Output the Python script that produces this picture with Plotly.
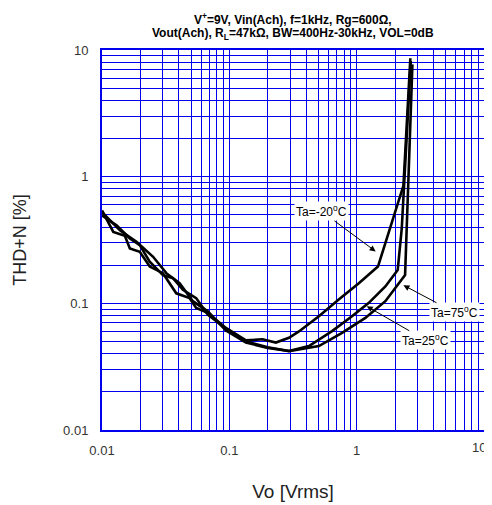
import math
import plotly.graph_objects as go

# Ta = -20 C
vo_m20 = [0.01, 0.01226, 0.01512, 0.01655, 0.01981, 0.0237, 0.0301, 0.0383, 0.0487, 0.0549, 0.0677,
          0.094, 0.135, 0.182, 0.232, 0.294, 0.352, 0.505, 0.723, 1.04, 1.47, 2.33, 2.64]
thd_m20 = [0.541, 0.366, 0.341, 0.271, 0.255, 0.195, 0.173, 0.12, 0.11, 0.0919, 0.084,
           0.064, 0.051, 0.052, 0.049, 0.0535, 0.06, 0.079, 0.107, 0.144, 0.195, 0.85, 8.6]
# Ta = 25 C
vo_25 = [0.01, 0.01382, 0.01866, 0.0252, 0.032, 0.0407, 0.0517, 0.0677, 0.094, 0.135, 0.2,
         0.294, 0.422, 0.641, 0.919, 1.24, 1.68, 2.10, 2.26, 2.66]
thd_25 = [0.525, 0.377, 0.306, 0.233, 0.173, 0.144, 0.104, 0.0865, 0.061, 0.049, 0.0445,
          0.0421, 0.046, 0.0604, 0.079, 0.1005, 0.136, 0.183, 0.39, 8.2]
# Ta = 75 C
vo_75 = [0.01, 0.013, 0.01655, 0.01981, 0.0237, 0.0301, 0.0361, 0.0432, 0.0549, 0.0677, 0.094,
         0.135, 0.2, 0.294, 0.505, 0.768, 1.17, 1.68, 2.40, 2.47, 2.74]
thd_75 = [0.494, 0.413, 0.325, 0.288, 0.213, 0.167, 0.158, 0.128, 0.11, 0.0815, 0.063,
          0.05, 0.045, 0.042, 0.046, 0.0585, 0.0767, 0.104, 0.167, 0.39, 7.7]

tick_vals = [0.01, 0.1, 1, 10]
x_tick_text = ["0.01", "0.1", "1", ""]   # last label placed separately to keep it inside the page
y_tick_text = ["0.01", "0.1", "1", "10"]
minor_vals = [k * 10 ** e for e in (-2, -1, 0) for k in range(2, 10)]

FONT = "Liberation Sans, Arial, sans-serif"
BLUE = "#0000EE"
TICK_FONT = dict(family=FONT, size=13, color="#333333")

fig = go.Figure()
for xs, ys in [(vo_m20, thd_m20), (vo_25, thd_25), (vo_75, thd_75)]:
    fig.add_trace(go.Scatter(x=xs, y=ys, mode="lines",
                             line=dict(color="black", width=2.6), showlegend=False))

axis_common = dict(
    type="log", range=[-2, 1], tickvals=tick_vals,
    showgrid=True, gridcolor=BLUE, gridwidth=1,
    minor=dict(tickvals=minor_vals, showgrid=True, gridcolor=BLUE, gridwidth=1),
    showline=True, linecolor=BLUE, linewidth=2, mirror=True,
    ticks="", zeroline=False, tickfont=TICK_FONT,
)

fig.update_xaxes(ticktext=x_tick_text, ticklabelstandoff=7,
                 title=dict(text="Vo [Vrms]", font=dict(family=FONT, size=19, color="#222222"), standoff=28),
                 **axis_common)
fig.update_yaxes(ticktext=y_tick_text, ticklabelstandoff=9,
                 title=dict(text="THD+N [%]", font=dict(family=FONT, size=18, color="#222222"), standoff=32),
                 **axis_common)

fig.add_annotation(x=1, y=0, xref="paper", yref="paper", text="10", showarrow=False,
                   xanchor="right", yanchor="middle", xshift=4, yshift=-17, font=TICK_FONT)

ann_font = dict(family=FONT, size=12, color="black")
annots = [
    ("Ta=-20<sup>o</sup>C", 1.41, 0.257, -54, -40),
    ("Ta=75<sup>o</sup>C", 2.33, 0.139, 51, 27),
    ("Ta=25<sup>o</sup>C", 1.20, 0.0948, 59, 34),
]
for text, xv, yv, axp, ayp in annots:
    fig.add_annotation(x=math.log10(xv), y=math.log10(yv), xref="x", yref="y",
                       text=text, showarrow=True, arrowhead=2, arrowsize=1.2, arrowwidth=1,
                       arrowcolor="black", ax=axp, ay=ayp, bgcolor="white",
                       font=ann_font, borderpad=1)

title_font = dict(family=FONT, size=12, color="black")
split_y = (433 - 25) / 383
fig.add_annotation(x=0.5, y=split_y, xref="paper", yref="paper", showarrow=False,
                   text="<b>V<sup>+</sup>=9V, Vin(Ach), f=1kHz, Rg=600\u03a9,</b>",
                   xanchor="center", yanchor="bottom", yshift=-3, font=title_font, borderpad=0)
fig.add_annotation(x=0.5, y=split_y, xref="paper", yref="paper", showarrow=False,
                   text="<b>Vout(Ach), R<sub>L</sub>=47k\u03a9, BW=400Hz-30kHz, VOL=0dB</b>",
                   xanchor="center", yanchor="top", font=title_font, borderpad=0)

# page body has an 8px default margin, so the figure is 8px smaller than the window
fig.update_layout(
    width=484, height=497,
    margin=dict(l=94, r=6, t=42, b=72),
    paper_bgcolor="white", plot_bgcolor="white",
)

fig.write_html("out.html")
